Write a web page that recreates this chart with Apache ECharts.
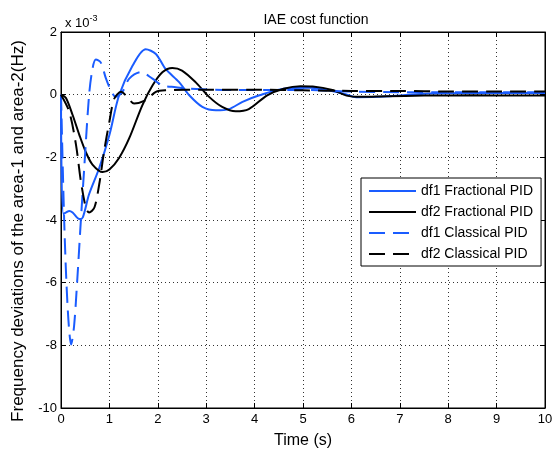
<!DOCTYPE html>
<html>
<head>
<meta charset="utf-8">
<script src="https://cdn.jsdelivr.net/npm/echarts@6/dist/echarts.min.js"></script>
<style>
html,body{margin:0;padding:0;background:#fff;}
#main{width:559px;height:454px;}
</style>
</head>
<body>
<div id="main"></div>
<script>
// 数据 (单位 x 10^-3)
var xTicks = [0,1,2,3,4,5,6,7,8,9,10];
var yTicks = [-10,-8,-6,-4,-2,0,2];

var df1FracT = [0,0.05,0.17,0.24,0.38,0.45,0.58,0.79,1.0,1.2,1.48,1.75,1.96,2.16,2.44,2.65,2.92,3.2,3.47,3.75,4.1,4.6,5.15,5.84,6.1,6.8,7.5,8.5,10];
var df1FracY = [0,-3.81,-3.71,-3.76,-3.97,-3.92,-3.18,-2.34,-1.29,-0.02,0.93,1.45,1.30,0.82,0.40,-0.02,-0.39,-0.50,-0.46,-0.23,-0.02,0.19,0.22,0.03,-0.08,-0.05,0.03,0.05,0.05];

var df2FracT = [0,0.1,0.24,0.38,0.52,0.65,0.86,1.0,1.2,1.41,1.68,1.89,2.1,2.3,2.5,2.78,3.06,3.33,3.61,3.88,4.26,4.6,4.95,5.2,5.63,5.9,6.19,6.73,7.5,8.5,9.5,10];
var df2FracY = [0,-0.1,-0.65,-1.29,-1.86,-2.23,-2.47,-2.39,-2.02,-1.39,-0.34,0.29,0.72,0.85,0.77,0.40,-0.07,-0.39,-0.53,-0.46,-0.02,0.19,0.27,0.26,0.14,-0.03,-0.07,-0.05,-0.03,-0.02,-0.03,-0.03];

var df1ClasT = [0,0.07,0.14,0.21,0.27,0.34,0.41,0.48,0.58,0.65,0.72,0.82,0.93,1.03,1.13,1.27,1.41,1.65,1.89,2.1,2.37,2.65,3.5,5,6,7,8,9,10];
var df1ClasY = [0,-4.23,-6.86,-7.97,-7.39,-5.81,-4.02,-2.34,-0.02,0.82,1.12,1.03,0.51,0.14,-0.07,0.09,0.51,0.72,0.51,0.29,0.24,0.19,0.15,0.15,0.1,0.08,0.08,0.08,0.08];

var df2ClasT = [0,0.17,0.31,0.41,0.52,0.58,0.69,0.79,0.89,1.0,1.1,1.24,1.37,1.51,1.75,1.96,2.16,3,4,5,6,7,8,9,10];
var df2ClasY = [0,-0.54,-1.6,-2.76,-3.65,-3.76,-3.6,-2.86,-1.81,-0.86,-0.13,0.09,-0.07,-0.28,-0.18,0.09,0.14,0.16,0.16,0.14,0.12,0.12,0.1,0.1,0.1];

var names = ['df1 Fractional PID','df2 Fractional PID','df1 Classical PID','df2 Classical PID'];

function pairs(t, y){
	var arr = [];
	for(var i=0;i<t.length;i++){ arr.push([t[i], y[i]]); }
	return arr;
}

var blue = '#1a5cff';
var font = 'Liberation Sans, Arial, sans-serif';

var myChart = echarts.init(document.getElementById('main'));
var option = {
	animation: false,
	title: {
		text: 'IAE cost function',
		left: 311,
		top: 8,
		textAlign: 'center',
		textStyle: { fontFamily: font, fontSize: 14, fontWeight: 'normal', color: '#000' }
	},
	grid: { left: 61, right: 14, top: 32, bottom: 42, show: true, borderColor: '#000', borderWidth: 1 },
	legend: {
		orient: 'vertical',
		left: 361,
		top: 178,
		padding: [6, 8, 5, 7],
		itemWidth: 47,
		itemHeight: 14,
		itemGap: 7,
		itemStyle: { opacity: 0 },
		backgroundColor: '#fff',
		borderColor: '#000',
		borderWidth: 1,
		textStyle: { fontFamily: font, fontSize: 14, color: '#000' },
		data: names
	},
	xAxis: [{
		type: 'value',
		min: 0, max: 10, interval: 1,
		name: 'Time (s)',
		nameLocation: 'middle',
		nameGap: 25,
		nameTextStyle: { fontFamily: font, fontSize: 16, color: '#000' },
		axisLine: { onZero: false, lineStyle: { color: '#000', width: 1 } },
		axisTick: { inside: true, length: 5, lineStyle: { color: '#000' } },
		axisLabel: { fontFamily: font, fontSize: 13, color: '#000', margin: 5,
			formatter: function(v){ return xTicks.indexOf(v) >= 0 ? String(v) : ''; } },
		splitLine: { show: true, lineStyle: { color: '#333', type: [1, 3], width: 1 } }
	},{
		type: 'value',
		position: 'top',
		min: 0, max: 10, interval: 1,
		axisLine: { onZero: false, lineStyle: { color: '#000' } },
		axisTick: { inside: true, length: 5, lineStyle: { color: '#000' } },
		axisLabel: { show: false },
		splitLine: { show: false }
	}],
	yAxis: [{
		type: 'value',
		min: -10, max: 2, interval: 2,
		axisLine: { show: true, onZero: false, lineStyle: { color: '#000', width: 1 } },
		axisTick: { show: true, inside: true, length: 5, lineStyle: { color: '#000' } },
		axisLabel: { fontFamily: font, fontSize: 13, color: '#000', margin: 4,
			formatter: function(v){ return yTicks.indexOf(v) >= 0 ? String(v) : ''; } },
		splitLine: { show: true, lineStyle: { color: '#333', type: [1, 3], width: 1 } }
	},{
		type: 'value',
		position: 'right',
		min: -10, max: 2, interval: 2,
		axisLine: { show: true, onZero: false, lineStyle: { color: '#000' } },
		axisTick: { show: true, inside: true, length: 5, lineStyle: { color: '#000' } },
		axisLabel: { show: false },
		splitLine: { show: false }
	}],
	graphic: [{
		type: 'text',
		x: 18, y: 231,
		rotation: Math.PI / 2,
		style: { text: 'Frequency deviations of the area-1 and area-2(Hz)', fill: '#000',
			font: '17px ' + font, textAlign: 'center', textVerticalAlign: 'middle' }
	},{
		type: 'text',
		x: 65, y: 14,
		style: { text: '{a|x 10}{b|-3}', fill: '#000',
			rich: { a: { fontFamily: font, fontSize: 13, verticalAlign: 'bottom', lineHeight: 16 },
				b: { fontFamily: font, fontSize: 9, verticalAlign: 'top', lineHeight: 16, padding: [0,0,6,0] } } }
	}],
	series: [{
		name: names[0], type: 'line', symbol: 'none', smooth: 0.3,
		lineStyle: { color: blue, width: 2 }, itemStyle: { color: blue },
		data: pairs(df1FracT, df1FracY)
	},{
		name: names[1], type: 'line', symbol: 'none', smooth: 0.3,
		lineStyle: { color: '#000', width: 2 }, itemStyle: { color: '#000' },
		data: pairs(df2FracT, df2FracY)
	},{
		name: names[2], type: 'line', symbol: 'none', smooth: 0.3,
		lineStyle: { color: blue, width: 2, type: [16, 8] }, itemStyle: { color: blue },
		data: pairs(df1ClasT, df1ClasY)
	},{
		name: names[3], type: 'line', symbol: 'none', smooth: 0.3,
		lineStyle: { color: '#000', width: 2, type: [16, 8] }, itemStyle: { color: '#000' },
		data: pairs(df2ClasT, df2ClasY)
	}]
};
myChart.setOption(option);
</script>
</body>
</html>
